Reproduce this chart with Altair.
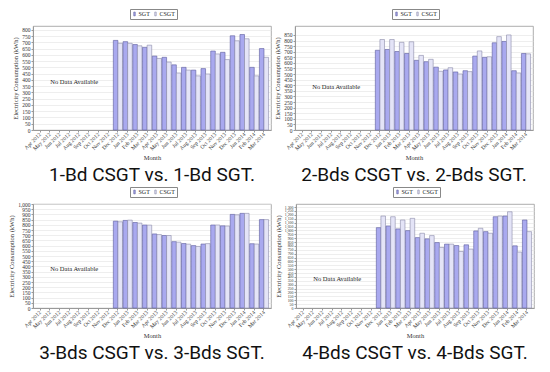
import altair as alt
import pandas as pd

months = ["Apr 2012", "May 2012", "Jun 2012", "Jul 2012", "Aug 2012", "Sep 2012",
          "Oct 2012", "Nov 2012", "Dec 2012", "Jan 2013", "Feb 2013", "Mar 2013",
          "Apr 2013", "May 2013", "Jun 2013", "Jul 2013", "Aug 2013", "Sep 2013",
          "Oct 2013", "Nov 2013", "Dec 2013", "Jan 2014", "Feb 2014", "Mar 2014"]
data_months = months[8:]
series = ["SGT", "CSGT"]

p1_sgt = [715, 705, 682, 660, 590, 580, 520, 500, 478, 490, 630, 620, 752, 762, 500, 650]
p1_csgt = [692, 692, 672, 677, 571, 542, 455, 478, 432, 447, 607, 562, 712, 728, 432, 580]
p2_sgt = [713, 720, 702, 684, 623, 611, 562, 537, 519, 530, 661, 650, 780, 792, 530, 684]
p2_csgt = [809, 809, 784, 789, 667, 632, 525, 557, 501, 522, 707, 655, 835, 850, 510, 681]
p3_sgt = [835, 842, 822, 798, 712, 697, 638, 620, 600, 615, 798, 790, 900, 910, 618, 850]
p3_csgt = [829, 845, 816, 797, 706, 697, 633, 614, 592, 619, 798, 788, 896, 910, 615, 850]
p4_sgt = [1035, 1057, 1019, 997, 907, 891, 843, 823, 805, 814, 993, 984, 1176, 1185, 801, 1134]
p4_csgt = [1185, 1176, 1134, 1155, 963, 933, 780, 823, 728, 759, 1027, 963, 1185, 1240, 721, 984]

captions = ["1-Bd CSGT vs. 1-Bd SGT.", "2-Bds CSGT vs. 2-Bds SGT.",
            "3-Bds CSGT vs. 3-Bds SGT.", "4-Bds CSGT vs. 4-Bds SGT."]
tick_max = [800, 850, 1000, 1300]
y_top = [830, 930, 1000, 1340]
y_label_size = [5.5, 5.5, 5.5, 3.9]
no_data_y = [382, 388, 378, 370]

fill_colors = ["#a9a9ef", "#e4e4f7"]
stroke_colors = ["#5c5c9c", "#8a8aa8"]
SERIF = "Liberation Serif"
W, H = 238, 104


def panel(sgt, csgt, tmax, ytop, ysize, caption, ndy):
    rows = []
    for m, s, c in zip(data_months, sgt, csgt):
        rows.append({"Month": m, "Series": "SGT", "kWh": s})
        rows.append({"Month": m, "Series": "CSGT", "kWh": c})
    df = pd.DataFrame(rows)
    x = alt.X("Month:N", sort=months,
              scale=alt.Scale(domain=months, paddingInner=0.06, paddingOuter=0.25),
              axis=alt.Axis(title="Month", labelAngle=315, labelAlign="right",
                            labelBaseline="middle", labelOverlap=False,
                            titlePadding=3, labelPadding=1))
    y = alt.Y("kWh:Q", scale=alt.Scale(domain=[0, ytop], nice=False),
              axis=alt.Axis(title="Electricity Consumption (kWh)",
                            values=list(range(0, tmax + 1, 50)), format=",d",
                            labelFontSize=ysize,
                            labelOverlap=False, titlePadding=3, labelPadding=1))
    bars = alt.Chart(df).mark_bar(strokeWidth=0.6).encode(
        x=x,
        xOffset=alt.XOffset("Series:N", sort=series, scale=alt.Scale(domain=series)),
        y=y,
        fill=alt.Fill("Series:N", sort=series,
                      scale=alt.Scale(domain=series, range=fill_colors),
                      legend=alt.Legend(orient="none", legendX=W / 2 - 22, legendY=-17,
                                        direction="horizontal", title=None,
                                        strokeColor="#888", padding=1.5,
                                        symbolType="M-0.4,-1H0.4V1H-0.4Z",
                                        symbolSize=14, symbolStrokeColor="#555",
                                        symbolStrokeWidth=0.6,
                                        labelFont=SERIF, labelFontSize=6,
                                        labelOffset=1, columnPadding=2,
                                        labelColor="#222")),
        stroke=alt.Stroke("Series:N", sort=series,
                          scale=alt.Scale(domain=series, range=stroke_colors),
                          legend=None),
    )
    nd = pd.DataFrame({"Month": ["Jul 2012"], "kWh": [ndy], "label": ["No Data Available"]})
    text = alt.Chart(nd).mark_text(font=SERIF, fontSize=6.5, dx=5, color="#222").encode(
        x=x, y=y, text="label:N")
    return alt.layer(bars, text).properties(
        width=W, height=H,
        title=alt.TitleParams(caption, orient="bottom", font="Roboto", fontSize=19,
                              fontWeight="normal", color="#111", offset=5))


all_sgt = [p1_sgt, p2_sgt, p3_sgt, p4_sgt]
all_csgt = [p1_csgt, p2_csgt, p3_csgt, p4_csgt]
panels = [panel(all_sgt[i], all_csgt[i], tick_max[i], y_top[i], y_label_size[i],
                captions[i], no_data_y[i])
          for i in range(4)]

row1 = alt.hconcat(panels[0], panels[1], spacing=2).resolve_scale(
    fill="independent", stroke="independent", y="independent").resolve_legend(fill="independent")
row2 = alt.hconcat(panels[2], panels[3], spacing=2).resolve_scale(
    fill="independent", stroke="independent", y="independent").resolve_legend(fill="independent")

chart = alt.vconcat(row1, row2, spacing=0).resolve_scale(
    fill="independent", stroke="independent", y="independent", x="independent"
).resolve_legend(fill="independent").properties(padding=0).configure_view(
    stroke="#999", strokeWidth=0.8
).configure_axis(
    labelFont=SERIF, titleFont=SERIF, labelFontSize=5.5, titleFontSize=6.5,
    titleFontWeight="normal", labelColor="#333", titleColor="#333",
    gridColor="#e3e3e3", gridWidth=0.6, tickColor="#999", domainColor="#999",
    tickSize=2
).configure_concat(spacing=0)

chart.save("out.html", embed_options={"renderer": "svg", "actions": False})
